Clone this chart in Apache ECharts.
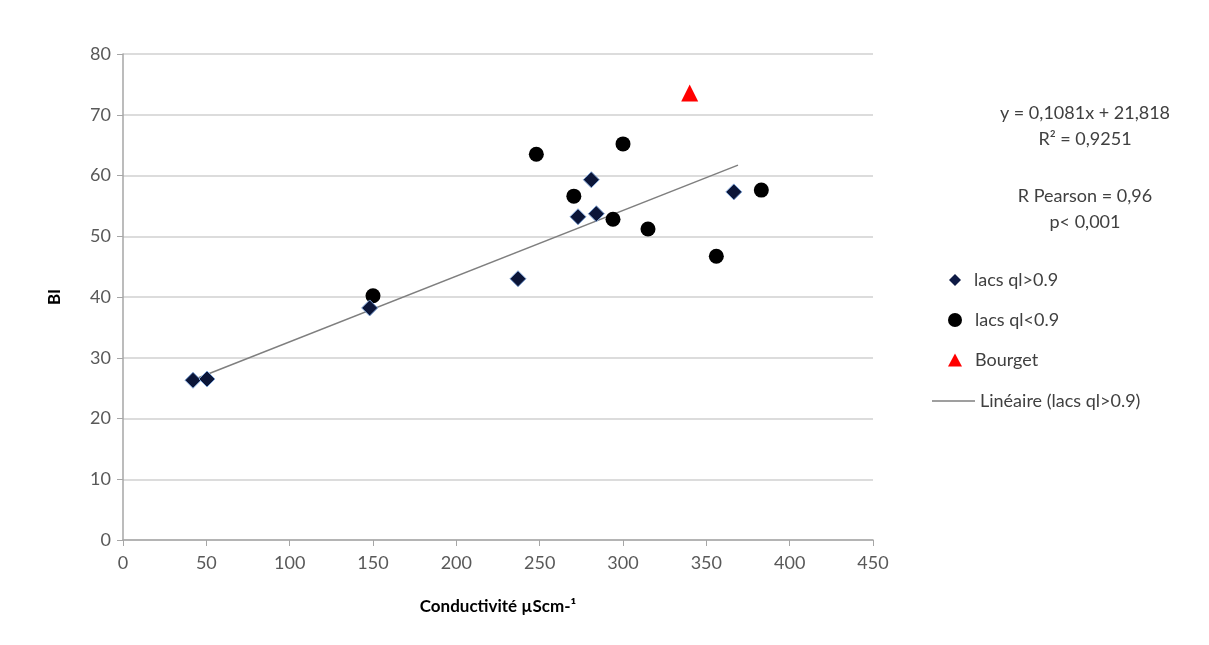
<!DOCTYPE html>
<html>
<head>
<meta charset="utf-8">
<script src="https://cdn.jsdelivr.net/npm/echarts@6/dist/echarts.min.js"></script>
<style>html,body{margin:0;padding:0;background:#fff;}#c{width:1209px;height:645px;}</style>
</head>
<body>
<div id="c"></div>
<script>
// Data
const seriesNames = ['lacs ql>0.9', 'lacs ql<0.9', 'Bourget', 'Linéaire (lacs ql>0.9)'];
const lacsHigh = [[42, 26.3], [50.4, 26.5], [148, 38.2], [237, 43], [273, 53.2], [281, 59.3], [284, 53.7], [366.5, 57.3]];
const lacsLow = [[150, 40.2], [248, 63.5], [270.5, 56.6], [294, 52.8], [300, 65.2], [315, 51.2], [356, 46.7], [383, 57.6]];
const bourget = [[340, 73.6]];
const trendLine = [[41.5, 26.3], [369, 61.7]];
const xTicks = [0, 450, 50];
const yTicks = [0, 80, 10];
const annotations = ['y = 0,1081x + 21,818', 'R² = 0,9251', 'R Pearson = 0,96', 'p< 0,001'];

const font = 'Lato, "Open Sans", sans-serif';
const chart = echarts.init(document.getElementById('c'), null, {renderer: 'canvas'});

function legendAt(name, top, left, icon, w, h, color) {
  return {
    data: [{name: name, icon: icon, itemStyle: {color: color, borderWidth: 0, opacity: 1}}],
    left: left, top: top, orient: 'vertical',
    itemWidth: w, itemHeight: h, itemGap: 0,
    textStyle: {fontFamily: font, fontSize: 18, color: '#404040', padding: [0, 0, 0, 8]},
    selectedMode: false
  };
}

const centers = [[1085, 113], [1085, 139], [1085, 196], [1085, 222]];

chart.setOption({
  animation: false,
  backgroundColor: '#fff',
  grid: {left: 123, right: 336, top: 54, bottom: 105},
  xAxis: {
    type: 'value', min: xTicks[0], max: xTicks[1], interval: xTicks[2],
    name: 'Conductivité µScm-¹', nameLocation: 'middle', nameGap: 58,
    nameTextStyle: {fontFamily: font, fontSize: 17, fontWeight: 'bold', color: '#000'},
    axisLine: {show: true, lineStyle: {color: '#a6a6a6', width: 1.5}},
    axisTick: {show: true, length: 6, lineStyle: {color: '#a6a6a6'}},
    axisLabel: {fontFamily: font, fontSize: 18, color: '#595959', margin: 14},
    splitLine: {show: false}
  },
  yAxis: {
    type: 'value', min: yTicks[0], max: yTicks[1], interval: yTicks[2],
    name: 'BI', nameLocation: 'middle', nameGap: 60, nameRotate: 90,
    nameTextStyle: {fontFamily: font, fontSize: 17, fontWeight: 'bold', color: '#000'},
    axisLine: {show: true, lineStyle: {color: '#a6a6a6', width: 1.5}},
    axisTick: {show: true, length: 6, inside: false, lineStyle: {color: '#a6a6a6'}},
    axisLabel: {fontFamily: font, fontSize: 18, color: '#595959', margin: 12},
    splitLine: {show: true, lineStyle: {color: '#d0d0d0', width: 1.5}}
  },
  legend: [
    legendAt(seriesNames[0], 266, 944, 'diamond', 12, 12, '#0e1a45'),
    legendAt(seriesNames[1], 306, 943, 'circle', 14, 14, '#000'),
    legendAt(seriesNames[2], 346, 943, 'triangle', 14, 13, '#ff0000'),
    {
      data: [{name: seriesNames[3], icon: 'rect', itemStyle: {color: '#7f7f7f', opacity: 1}}],
      left: 927, top: 387, itemWidth: 43, itemHeight: 1.5, itemGap: 0,
      textStyle: {fontFamily: font, fontSize: 18, color: '#404040', padding: [0, 0, 0, 0]},
      selectedMode: false
    }
  ],
  graphic: centers.map((c, i) => ({
    type: 'text', x: c[0], y: c[1],
    style: {text: annotations[i], fontFamily: font, fontSize: 18, fill: '#404040', align: 'center', verticalAlign: 'middle'}
  })),
  series: [
    {
      name: seriesNames[3], type: 'line', data: trendLine, symbol: 'none', showSymbol: false,
      lineStyle: {color: '#7f7f7f', width: 1.5}, itemStyle: {color: '#7f7f7f'}, z: 1
    },
    {
      name: seriesNames[0], type: 'scatter', data: lacsHigh, symbol: 'diamond', symbolSize: 16,
      itemStyle: {color: '#0b1538', borderColor: '#7fa3d6', borderWidth: 1, opacity: 1}, z: 3
    },
    {
      name: seriesNames[1], type: 'scatter', data: lacsLow, symbol: 'circle', symbolSize: 15,
      itemStyle: {color: '#000', opacity: 1}, z: 2
    },
    {
      name: seriesNames[2], type: 'scatter', data: bourget, symbol: 'triangle', symbolSize: 17,
      itemStyle: {color: '#ff0000', opacity: 1}, z: 3
    }
  ]
});
</script>
</body>
</html>
